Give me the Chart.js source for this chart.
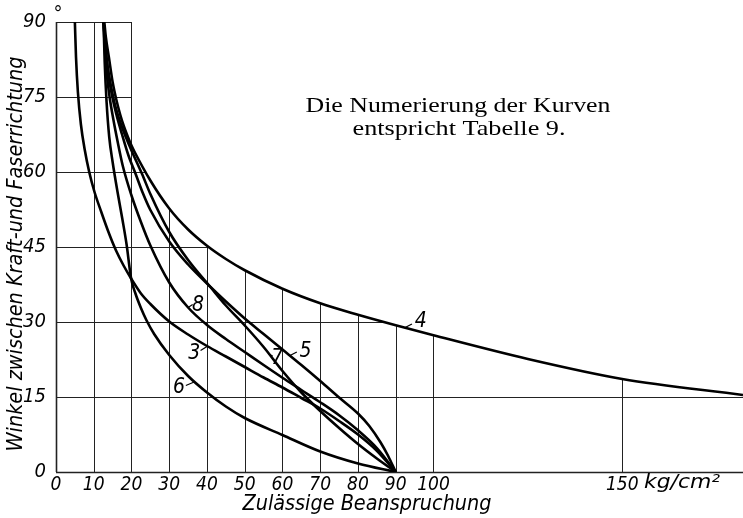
<!DOCTYPE html>
<html>
<head>
<meta charset="utf-8">
<script src="https://cdn.jsdelivr.net/npm/chart.js@4.4.1/dist/chart.umd.min.js"></script>
<style>
  html, body { margin: 0; padding: 0; background: #fff; }
  #wrap { width: 743px; height: 518px; }
</style>
</head>
<body>
<div id="wrap"><canvas id="kurven" width="743" height="518"></canvas></div>
<script>
// Values: [zulässige Beanspruchung kg/cm², Winkel in Grad]
const kurve3 = [[5,90],[5.3,83],[5.8,76],[6.6,69.5],[7.6,64.5],[8.8,60],[10.2,56],[12,52],[14,47.8],[15.9,44.3],[17.9,41.3],[19.9,38.7],[22.5,35.7],[25,33.6],[30,30.1],[35,27.5],[40,25.2],[45,23.1],[50,21],[55,18.9],[60,16.9],[65,14.8],[70,12.7],[75,10.2],[80,7.5],[85,4.25],[90,0]];
const kurve4 = [[12.8,90],[13.2,87],[14,83],[15,78],[16,74.4],[17,71.5],[18,69.1],[19,67.1],[20,65.3],[20.9,63.9],[25,58.3],[30,52.7],[35,48.5],[40,45.25],[45,42.6],[50,40.35],[60,36.65],[70,33.75],[80,31.45],[90,29.35],[100,27.35],[125,22.6],[150,18.6],[182,15.4]];
const kurve5 = [[12.6,90],[13.1,85],[13.8,80],[14.8,75.5],[16,71.5],[17.5,67.5],[19.2,63.3],[21.2,59.4],[23,55.8],[25,52.4],[30,46.1],[35,41.5],[40.8,37.1],[45,34.1],[50,30.7],[55,27.6],[60,24.5],[65,21.4],[70,18.2],[75,14.9],[80,11.7],[83,9.2],[86,5.9],[88,3.2],[90,0]];
const kurve6 = [[12.6,90],[12.9,82],[13.4,74],[14.1,67],[15,62],[16.3,56],[17.6,50.5],[18.7,45.5],[19.9,38.7],[21,35.8],[22.5,32.8],[24,30.3],[26,27.6],[30,23.4],[35,19.2],[40,15.9],[45,13.1],[50,10.8],[60,7.4],[70,4.1],[80,1.7],[90,0]];
const kurve7 = [[12.6,90],[13,86],[13.7,81],[14.6,77],[15.6,73.5],[17,70],[18.5,67],[20,64.3],[22.8,59.6],[25,55.6],[30,48],[35,42.4],[40.8,37.1],[45,33.3],[50,29.3],[55,25],[60,20.2],[65,15.9],[70,12.2],[75,8.8],[80,5.6],[85,2.7],[90,0]];
const kurve8 = [[12.6,90],[12.9,85],[13.4,80],[14.2,75],[15.2,70.5],[16.4,65.8],[17.7,61.2],[20,55.3],[22.5,50],[25,45.3],[30,37.9],[35,32.9],[40,29.4],[45,26.6],[50,24],[55,21.4],[60,18.85],[65,16.4],[70,13.95],[75,11.35],[80,8.35],[85,4.8],[90,0]];

const kurvenNamen = ['3', '4', '5', '6', '7', '8'];
const xTicks = [0, 10, 20, 30, 40, 50, 60, 70, 80, 90, 100, 150];
const yTicks = [0, 15, 30, 45, 60, 75, 90];
const xTitel = 'Zulässige Beanspruchung';
const yTitel = 'Winkel zwischen Kraft-und Faserrichtung';
const xEinheit = 'kg/cm²';
const hinweis = ['Die Numerierung der Kurven', 'entspricht Tabelle 9.'];

const X_MAX = 182;
const lettering = "'DejaVu Sans Condensed', 'Liberation Sans Narrow', 'DejaVu Sans', sans-serif";
const serif = "'Liberation Serif', 'DejaVu Serif', serif";

// curve number labels: text, leader from (x1,y1) to (x2,y2), label centre (x,y), data units
const kurvenMarken = [
    { text: '3', x1: 38.3, y1: 24.3, x2: 40.0, y2: 25.1, x: 36.6, y: 23.7 },
    { text: '6', x1: 34.4, y1: 17.3, x2: 36.6, y2: 18.0, x: 32.6, y: 16.8 },
    { text: '8', x1: 35.0, y1: 32.9, x2: 36.2, y2: 33.5, x: 37.6, y: 33.3 },
    { text: '7', x1: 56.3, y1: 23.6, x2: 57.4, y2: 23.2, x: 58.6, y: 22.6 },
    { text: '5', x1: 62.0, y1: 23.3, x2: 63.8, y2: 24.0, x: 66.1, y: 24.0 },
    { text: '4', x1: 92.5, y1: 28.9, x2: 94.3, y2: 29.6, x: 96.6, y: 30.1 }
];

// angle of curve 4 at a given stress (linear between read points)
function winkelKurve4(v) {
    for (let i = 1; i < kurve4.length; i++) {
        const [x0, y0] = kurve4[i - 1];
        const [x1, y1] = kurve4[i];
        if (v <= x1) return y0 + (y1 - y0) * (v - x0) / (x1 - x0);
    }
    return kurve4[kurve4.length - 1][1];
}

// stress of curve 4 at a given angle
function spannungKurve4(a) {
    for (let i = 1; i < kurve4.length; i++) {
        const [x0, y0] = kurve4[i - 1];
        const [x1, y1] = kurve4[i];
        if (a >= y1) return x0 + (x1 - x0) * (a - y0) / (y1 - y0);
    }
    return X_MAX;
}

function crisp(p) { return Math.round(p) + 0.5; }

// text squeezed or stretched to a given width
function textAufBreite(ctx, text, cx, cy, breite) {
    const w = ctx.measureText(text).width;
    ctx.save();
    ctx.translate(cx, cy);
    ctx.scale(breite / w, 1);
    ctx.fillText(text, 0, 0);
    ctx.restore();
}

// grid only inside the box up to 20 and below curve 4
const gitterPlugin = {
    id: 'gitter',
    beforeDatasetsDraw(chart) {
        const { ctx, scales: { x, y } } = chart;
        ctx.save();
        ctx.strokeStyle = '#222';
        for (const v of xTicks) {
            const top = v <= 20 ? 90 : winkelKurve4(v);
            ctx.lineWidth = v === 0 ? 1.6 : 1;
            ctx.beginPath();
            ctx.moveTo(crisp(x.getPixelForValue(v)), y.getPixelForValue(0));
            ctx.lineTo(crisp(x.getPixelForValue(v)), y.getPixelForValue(top));
            ctx.stroke();
        }
        for (const h of yTicks) {
            const right = h === 0 ? X_MAX : Math.max(20, Math.min(X_MAX, spannungKurve4(h)));
            ctx.lineWidth = h === 0 ? 1.6 : 1;
            ctx.beginPath();
            ctx.moveTo(x.getPixelForValue(0), crisp(y.getPixelForValue(h)));
            ctx.lineTo(x.getPixelForValue(right), crisp(y.getPixelForValue(h)));
            ctx.stroke();
        }
        ctx.restore();
    }
};

const beschriftungPlugin = {
    id: 'beschriftung',
    afterDatasetsDraw(chart) {
        const { ctx, scales: { x, y } } = chart;
        ctx.save();
        ctx.fillStyle = '#000';
        ctx.strokeStyle = '#000';
        ctx.textAlign = 'center';
        ctx.textBaseline = 'middle';

        // curve numbers with their little leaders
        ctx.font = 'italic 21px ' + lettering;
        ctx.lineWidth = 1.2;
        for (const m of kurvenMarken) {
            ctx.beginPath();
            ctx.moveTo(x.getPixelForValue(m.x1), y.getPixelForValue(m.y1));
            ctx.lineTo(x.getPixelForValue(m.x2), y.getPixelForValue(m.y2));
            ctx.stroke();
            ctx.fillText(m.text, x.getPixelForValue(m.x), y.getPixelForValue(m.y));
        }

        // unit after the 150 tick
        ctx.font = 'italic 19px ' + lettering;
        textAufBreite(ctx, xEinheit, 682, 483, 76);

        // axis titles
        ctx.font = 'italic 21px ' + lettering;
        textAufBreite(ctx, xTitel, 367, 505, 249);
        ctx.save();
        ctx.translate(17, 254);
        ctx.rotate(-Math.PI / 2);
        textAufBreite(ctx, yTitel, 0, 0, 395);
        ctx.restore();

        // note in the upper right
        ctx.font = '22px ' + serif;
        textAufBreite(ctx, hinweis[0], 458, 106, 305);
        textAufBreite(ctx, hinweis[1], 459, 129, 213);

        // degree sign of the top tick
        ctx.textBaseline = 'alphabetic';
        ctx.font = '20px ' + lettering;
        ctx.fillText('°', 58, 20);
        ctx.restore();
    }
};

const kurven = [kurve3, kurve4, kurve5, kurve6, kurve7, kurve8];

const ctx = document.getElementById('kurven').getContext('2d');
const chart = new Chart(ctx, {
    type: 'scatter',
    data: {
        datasets: kurven.map((pts, i) => ({
            label: 'Kurve ' + kurvenNamen[i],
            data: pts.map(([a, b]) => ({ x: a, y: b })),
            showLine: true,
            borderColor: '#000',
            borderWidth: 2.6,
            pointRadius: 0,
            tension: 0.4,
            cubicInterpolationMode: 'monotone',
            fill: false
        }))
    },
    options: {
        responsive: false,
        animation: false,
        devicePixelRatio: 1,
        layout: { padding: { top: 16, left: 0, right: 0, bottom: 0 } },
        plugins: {
            legend: { display: false },
            tooltip: { enabled: false }
        },
        scales: {
            x: {
                type: 'linear',
                min: 0,
                max: X_MAX,
                afterBuildTicks: s => { s.ticks = xTicks.map(v => ({ value: v })); },
                afterFit: s => { s.height = 46; },
                grid: { display: false, drawTicks: false },
                border: { display: false },
                ticks: {
                    padding: 2,
                    maxRotation: 0,
                    autoSkip: false,
                    color: '#000',
                    font: { family: lettering, size: 19, style: 'italic' },
                    callback: v => String(v)
                }
            },
            y: {
                type: 'linear',
                min: 0,
                max: 90,
                afterBuildTicks: s => { s.ticks = yTicks.map(v => ({ value: v })); },
                afterFit: s => { s.width = 56; },
                grid: { display: false, drawTicks: false },
                border: { display: false },
                ticks: {
                    padding: 10,
                    autoSkip: false,
                    color: '#000',
                    font: { family: lettering, size: 20, style: 'italic' },
                    callback: v => String(v)
                }
            }
        }
    },
    plugins: [gitterPlugin, beschriftungPlugin]
});
</script>
</body>
</html>
